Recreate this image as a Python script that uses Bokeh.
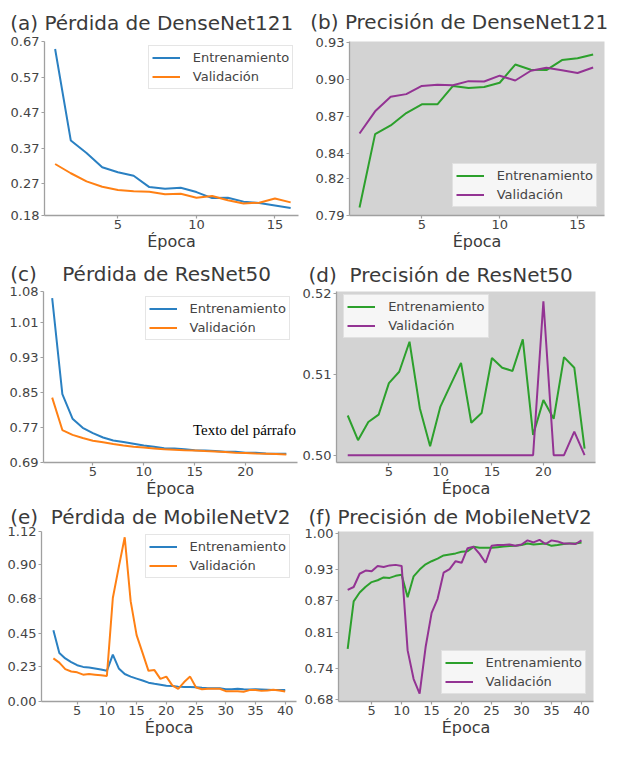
from bokeh.plotting import figure
from bokeh.layouts import column, row
from bokeh.models import (Label, Legend, LegendItem, FixedTicker, PrintfTickFormatter,
                          Range1d, Title)
from bokeh.embed import file_html
from bokeh.resources import INLINE

# ---------------- data ----------------
epochs_densenet = list(range(1, 17))
densenet_loss_train = [0.649, 0.391, 0.356, 0.316, 0.302, 0.292, 0.260, 0.255,
                       0.258, 0.246, 0.229, 0.230, 0.219, 0.215, 0.208, 0.201]
densenet_loss_val = [0.325, 0.299, 0.276, 0.261, 0.252, 0.248, 0.247, 0.240,
                     0.241, 0.230, 0.235, 0.223, 0.214, 0.216, 0.228, 0.217]
densenet_acc_train = [0.7965, 0.8557, 0.8627, 0.8727, 0.8798, 0.8798, 0.8946, 0.8930,
                      0.8938, 0.8972, 0.9119, 0.9077, 0.9074, 0.9155, 0.9169, 0.9200]
densenet_acc_val = [0.8562, 0.8741, 0.8859, 0.8880, 0.8946, 0.8956, 0.8951, 0.8985,
                    0.8982, 0.9029, 0.8990, 0.9069, 0.9093, 0.9072, 0.9051, 0.9095]

epochs_resnet = list(range(1, 25))
resnet_loss_train = [1.065, 0.846, 0.790, 0.769, 0.757, 0.747, 0.740, 0.737,
                     0.733, 0.729, 0.726, 0.7225, 0.722, 0.720, 0.718, 0.7174,
                     0.716, 0.7145, 0.7145, 0.712, 0.712, 0.7107, 0.710, 0.710]
resnet_loss_val = [0.838, 0.764, 0.753, 0.7457, 0.7397, 0.736, 0.7323, 0.729,
                   0.726, 0.724, 0.722, 0.720, 0.719, 0.718, 0.7174, 0.716,
                   0.7152, 0.7137, 0.712, 0.7115, 0.7107, 0.710, 0.7093, 0.7085]
resnet_acc_train = [0.5049, 0.50185, 0.5041, 0.5050, 0.5089, 0.5103, 0.5140, 0.5058,
                    0.5011, 0.5060, 0.5087, 0.5114, 0.5040, 0.5052, 0.5120, 0.5108,
                    0.5104, 0.5143, 0.5025, 0.5068, 0.5045, 0.5121, 0.5108, 0.5008]
resnet_acc_val = [0.500, 0.500, 0.500, 0.500, 0.500, 0.500, 0.500, 0.500,
                  0.500, 0.500, 0.500, 0.500, 0.500, 0.500, 0.500, 0.500,
                  0.500, 0.500, 0.500, 0.519, 0.500, 0.500, 0.5029, 0.500]

epochs_mobilenet = list(range(1, 41))
mobilenet_loss_train = [0.469, 0.320, 0.284, 0.260, 0.239, 0.228, 0.224, 0.218, 0.211, 0.202,
                        0.309, 0.218, 0.181, 0.164, 0.151, 0.138, 0.124, 0.117, 0.111, 0.104,
                        0.102, 0.098, 0.096, 0.096, 0.094, 0.090, 0.088, 0.088, 0.088, 0.081,
                        0.081, 0.084, 0.081, 0.079, 0.081, 0.079, 0.077, 0.075, 0.075, 0.075]
mobilenet_loss_val = [0.284, 0.256, 0.213, 0.198, 0.192, 0.177, 0.181, 0.177, 0.173, 0.168,
                      0.682, 0.885, 1.082, 0.661, 0.437, 0.320, 0.202, 0.207, 0.149, 0.164,
                      0.106, 0.083, 0.128, 0.164, 0.092, 0.081, 0.084, 0.084, 0.084, 0.068,
                      0.068, 0.068, 0.064, 0.075, 0.075, 0.070, 0.073, 0.077, 0.073, 0.066]
mobilenet_acc_train = [0.778, 0.869, 0.886, 0.897, 0.906, 0.9095, 0.915, 0.914, 0.918, 0.920,
                       0.877, 0.917, 0.930, 0.940, 0.946, 0.951, 0.957, 0.959, 0.961, 0.964,
                       0.965, 0.9736, 0.972, 0.972, 0.972, 0.973, 0.974, 0.975, 0.9755, 0.977,
                       0.980, 0.978, 0.979, 0.980, 0.9755, 0.977, 0.979, 0.980, 0.980, 0.982]
mobilenet_acc_val = [0.891, 0.8966, 0.922, 0.928, 0.927, 0.937, 0.935, 0.938, 0.939, 0.937,
                     0.775, 0.720, 0.692, 0.7815, 0.847, 0.874, 0.924, 0.931, 0.946, 0.943,
                     0.971, 0.9736, 0.960, 0.943, 0.9755, 0.977, 0.977, 0.978, 0.9755, 0.978,
                     0.986, 0.982, 0.987, 0.979, 0.986, 0.984, 0.980, 0.980, 0.979, 0.986]

yticks_densenet_loss = ["0.18", "0.27", "0.37", "0.47", "0.57", "0.67"]
yticks_densenet_acc = ["0.79", "0.82", "0.84", "0.87", "0.90", "0.93"]
yticks_resnet_loss = ["0.69", "0.77", "0.85", "0.93", "1.01", "1.08"]
yticks_resnet_acc = ["0.50", "0.51", "0.52"]
yticks_mobilenet_loss = ["0.00", "0.23", "0.45", "0.68", "0.90", "1.12"]
yticks_mobilenet_acc = ["0.68", "0.74", "0.81", "0.87", "0.93", "1.00"]
xticks_densenet = [5, 10, 15]
xticks_resnet = [5, 10, 15, 20]
xticks_mobilenet = [5, 10, 15, 20, 25, 30, 35, 40]

series_names = ["Entrenamiento", "Validación"]
panel_tags = ["(a)", "(b)", "(c)", "(d)", "(e)", "(f)"]
panel_titles = ["Pérdida de DenseNet121", "Precisión de DenseNet121",
                "Pérdida de ResNet50", "Precisión de ResNet50",
                "Pérdida de MobileNetV2", "Precisión de MobileNetV2"]
x_label = "Época"
note_text = "Texto del párrafo"

# ---------------- layout (reference pixel geometry, scaled to fit) ----------------
SX = 610 / 626
SY = 0.976
COLS = [0, 307, 626]
ROWS = [0, 259, 513, 758]
TOTAL_H = 740

BLUE, ORANGE = "#2a80c2", "#ff8014"
GREEN, PURPLE = "#2ca02c", "#933393"
GRAY_BG = "#d3d3d3"
AXIS_COL = "#a0a0a0"
TEXT_COL = "#3a3a3a"
TITLE_FS = 20
NBSP = "\u00a0"


def col_edge(i):
    return int(round(COLS[i] * SX))


def row_edge(i):
    return TOTAL_H if i == len(ROWS) - 1 else int(round(ROWS[i] * SY))


specs = [
    dict(r=0, c=0, ep=epochs_densenet, tr=densenet_loss_train, va=densenet_loss_val,
         cols=(BLUE, ORANGE), bg="white", frame=(45, 306, 42.3, 220),
         xr=(0.324, 16.50), yr=(0.18 - 1e-6, 0.67 + 1e-6),
         xt=xticks_densenet, yt=yticks_densenet_loss, leg=(151.7, 91.7),
         tag_x=10, gap=1, base=30),
    dict(r=0, c=1, ep=epochs_densenet, tr=densenet_acc_train, va=densenet_acc_val,
         cols=(GREEN, PURPLE), bg=GRAY_BG, frame=(358, 620, 41.7, 220),
         xr=(0.356, 16.73), yr=(0.79 - 1e-6, 0.9305),
         xt=xticks_densenet, yt=yticks_densenet_acc, leg=(463.7, 211.7),
         tag_x=318, gap=1, base=29.3),
    dict(r=1, c=0, ep=epochs_resnet, tr=resnet_loss_train, va=resnet_loss_val,
         cols=(BLUE, ORANGE), bg="white", frame=(44.3, 305, 298.3, 473.3),
         xr=(0.148, 25.1), yr=(0.69 - 1e-6, 1.08 + 1e-6),
         xt=xticks_resnet, yt=yticks_resnet_loss, leg=(148.3, 347.7),
         tag_x=10, gap=4, base=286.7),
    dict(r=1, c=1, ep=epochs_resnet, tr=resnet_acc_train, va=resnet_acc_val,
         cols=(GREEN, PURPLE), bg=GRAY_BG, frame=(345.3, 610.7, 294.3, 473.3),
         xr=(-0.09, 25.06), yr=(0.4991, 0.5202),
         xt=xticks_resnet, yt=yticks_resnet_acc, leg=(352.3, 345.7),
         tag_x=316.3, gap=2, base=280),
    dict(r=2, c=0, ep=epochs_mobilenet, tr=mobilenet_loss_train, va=mobilenet_loss_val,
         cols=(BLUE, ORANGE), bg="white", frame=(41.7, 303.3, 543.3, 718.3),
         xr=(-1.0, 41.9), yr=(0.0 - 1e-6, 1.12 + 1e-6),
         xt=xticks_mobilenet, yt=yticks_mobilenet_loss, leg=(148.3, 591.7),
         tag_x=10, gap=2, base=531.7),
    dict(r=2, c=1, ep=epochs_mobilenet, tr=mobilenet_acc_train, va=mobilenet_acc_val,
         cols=(GREEN, PURPLE), bg=GRAY_BG, frame=(347.3, 608.7, 543.3, 719),
         xr=(-0.53, 42.0), yr=(0.677, 1.003),
         xt=xticks_mobilenet, yt=yticks_mobilenet_acc, leg=(452.3, 711.7),
         tag_x=316.3, gap=1, base=531.7),
]

NOTE_BASE_Y = 440

plots = []
for i, sp in enumerate(specs):
    r, c = sp["r"], sp["c"]
    cx0, ry0 = COLS[c], ROWS[r]
    W = col_edge(c + 1) - col_edge(c)
    H = row_edge(r + 1) - row_edge(r)
    fx0, fx1, fy0, fy1 = sp["frame"]
    left = int(round((fx0 - cx0) * SX))
    right = W - int(round((fx1 - cx0) * SX))
    top = int(round((fy0 - ry0) * SY))
    bottom = H - int(round((fy1 - ry0) * SY))
    xr, yr = sp["xr"], sp["yr"]

    p = figure(width=W, height=H, x_range=Range1d(*xr), y_range=Range1d(*yr),
               min_border_left=left, min_border_right=right,
               min_border_top=top, min_border_bottom=bottom,
               output_backend="svg", toolbar_location=None, title=None,
               background_fill_color=sp["bg"], border_fill_color="white",
               outline_line_color=None)
    p.xgrid.visible = False
    p.ygrid.visible = False

    p.xaxis.ticker = FixedTicker(ticks=sp["xt"])
    p.yaxis.ticker = FixedTicker(ticks=[float(t) for t in sp["yt"]])
    p.yaxis.formatter = PrintfTickFormatter(format="%.2f")
    for ax in (p.xaxis[0], p.yaxis[0]):
        ax.axis_line_color = AXIS_COL
        ax.axis_line_width = 1.3
        ax.major_tick_line_color = AXIS_COL
        ax.major_tick_line_width = 1.2
        ax.major_tick_out = 3
        ax.major_tick_in = 0
        ax.minor_tick_line_color = None
        ax.major_label_text_font = "DejaVu Sans"
        ax.major_label_text_font_size = "13px"
        ax.major_label_text_color = "#444444"
    p.yaxis.major_label_standoff = 2
    p.xaxis.major_label_standoff = 1
    p.xaxis.axis_label = x_label
    p.xaxis.axis_label_standoff = 0
    p.xaxis.axis_label_text_font = "DejaVu Sans"
    p.xaxis.axis_label_text_font_size = "16px"
    p.xaxis.axis_label_text_font_style = "normal"
    p.xaxis.axis_label_text_color = TEXT_COL

    r1 = p.line(sp["ep"], sp["tr"], line_color=sp["cols"][0], line_width=2)
    r2 = p.line(sp["ep"], sp["va"], line_color=sp["cols"][1], line_width=2)

    fw = W - left - right
    fh = H - top - bottom

    # legend, placed in pixels relative to the frame's bottom-left corner
    bx, by = sp["leg"]
    vx = (bx - cx0) * SX - left
    vy = (H - bottom) - (by - ry0) * SY
    leg = Legend(items=[LegendItem(label=series_names[0], renderers=[r1]),
                        LegendItem(label=series_names[1], renderers=[r2])],
                 location=(vx, vy), margin=0, padding=3, spacing=2,
                 glyph_width=28, glyph_height=17, label_height=17, label_standoff=13,
                 label_text_font="DejaVu Sans", label_text_font_size="13px",
                 label_text_color="#444444",
                 border_line_color="#cccccc", border_line_width=1,
                 background_fill_color="white", background_fill_alpha=0.8)
    p.add_layout(leg)

    # panel title "(x) Title", top-aligned in the space above the frame
    h_est = 1.164 * TITLE_FS
    h_safe = 25.5
    asc = 0.928 * TITLE_FS
    t_local = (sp["base"] - ry0) * SY - asc
    D = top - t_local
    s_ideal = 2 * (D - 2 - h_est)
    s_max = top - 1 - 2 - h_safe
    standoff = int(max(0, min(s_ideal, s_max)))
    tag_local = (sp["tag_x"] - cx0) * SX
    p.add_layout(Title(text=panel_tags[i] + NBSP * sp["gap"] + panel_titles[i],
                       align="left", vertical_align="top",
                       offset=tag_local - left, standoff=standoff,
                       text_font="DejaVu Sans", text_font_size=f"{TITLE_FS}px",
                       text_font_style="normal", text_color=TEXT_COL), "above")

    if i == 2:
        # paragraph note, kept whole inside the frame (right-aligned at its edge)
        ny = yr[1] - ((NOTE_BASE_Y - ry0) * SY - top) / fh * (yr[1] - yr[0])
        nx = xr[1] - 1.5 / fw * (xr[1] - xr[0])
        p.add_layout(Label(x=nx, y=ny, text=note_text, text_font="Liberation Serif",
                           text_font_size="15px", text_color="black",
                           text_align="right", text_baseline="alphabetic"))

    plots.append(p)

layout = column(row(plots[0], plots[1]), row(plots[2], plots[3]), row(plots[4], plots[5]))

open("out.html", "w").write(file_html(layout, INLINE))
